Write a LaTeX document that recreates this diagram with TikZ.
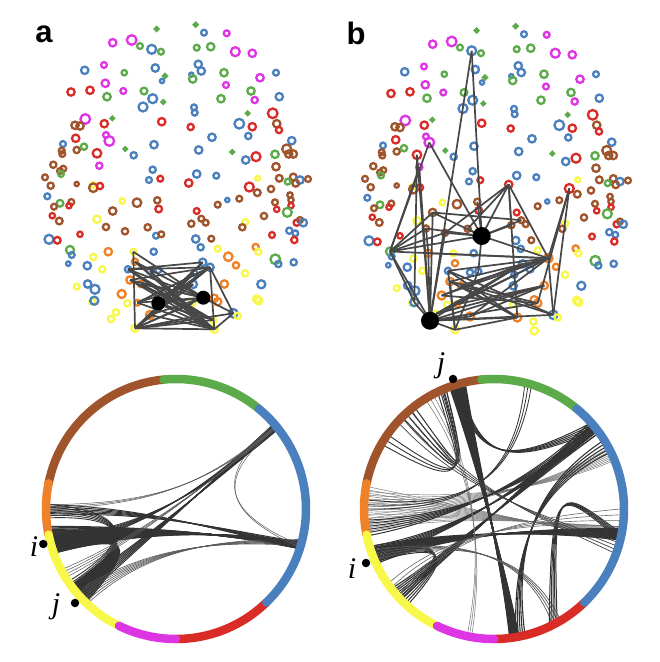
\documentclass[tikz,border=0pt]{standalone}
\usepackage{fontspec}
\setmainfont{Liberation Serif}
\newfontfamily\labfont{Liberation Sans}
\definecolor{kb}{HTML}{4A80BD}
\definecolor{kg}{HTML}{5CAB4A}
\definecolor{kr}{HTML}{D92C27}
\definecolor{km}{HTML}{DD35E3}
\definecolor{kn}{HTML}{A0542C}
\definecolor{ko}{HTML}{EF8128}
\definecolor{ky}{HTML}{F8F84A}
\tikzset{
  ringl/.style={line width=2.3},
  edgea/.style={draw=black!72,line width=1.7},
  hubn/.style={circle,fill=black,draw=none,inner sep=0pt},
  chd/.style={draw=black!80},
  seg/.style={line width=8.5,line cap=round},
  dotn/.style={circle,fill=black,inner sep=0pt,minimum size=8.5},
  letter/.style={font=\labfont\bfseries\fontsize{31}{31}\selectfont,anchor=base,inner sep=0pt},
  ijlab/.style={font=\fontsize{30}{30}\selectfont\itshape,anchor=base,inner sep=0pt},
}
\newcommand\bund[9]{%
  \pgfmathsetmacro\bAm{(#1+#2)/2}%
  \pgfmathsetmacro\bBm{(#3+#4)/2}%
  \foreach \k in {0,...,#5}{%
    \pgfmathsetmacro\bUa{#1+(#2-#1)*\k/#5}%
    \pgfmathsetmacro\bUb{#3+(#4-#3)*\k/#5}%
    \pgfmathsetmacro\qax{#6+\bs*126*(cos(\bUa)-cos(\bAm))}%
    \pgfmathsetmacro\qay{#7+\bs*126*(sin(\bUa)-sin(\bAm))}%
    \pgfmathsetmacro\qbx{#8+\bs*126*(cos(\bUb)-cos(\bBm))}%
    \pgfmathsetmacro\qby{#9+\bs*126*(sin(\bUb)-sin(\bBm))}%
    \draw[chd,draw=black!\gr,line width=\lw] (\bUa:126) .. controls (\qax,\qay) and (\qbx,\qby) .. (\bUb:126);
  }}
\newcommand\ringsegs{%
  \draw[seg,kn] (95.5:130) arc[start angle=95.5,end angle=168.6,radius=130];
  \draw[seg,kg] (50.5:130) arc[start angle=50.5,end angle=95.5,radius=130];
  \draw[seg,kr] (270:130) arc[start angle=270,end angle=314,radius=130];
  \draw[seg,ko] (168.6:130) arc[start angle=168.6,end angle=191.4,radius=130];
  \draw[seg,ky] (191.4:130) arc[start angle=191.4,end angle=244,radius=130];
  \draw[seg,km] (244:130) arc[start angle=244,end angle=270,radius=130];
  \draw[seg,kb] (-46:130) arc[start angle=-46,end angle=50.5,radius=130];
}
\def\layout{156.7/29/kg/1.7, 195.7/24.7/kg/1.7, 204/32.7/kb/2.6, 226.7/33.3/km/2.6,
112.7/42.7/km/3.3, 131.7/40/km/4.3, 140/46/kg/2.6, 151.7/49.3/kb/4.0, 161/51.7/kg/2.6,
196.7/47.7/kg/2.6, 210.7/46.7/kg/3.3, 235.3/51.7/km/4.0, 252.3/53.3/km/3.3, 84.7/70.3/kb/3.3,
104/65/km/2.6, 124.3/72.7/kg/2.4, 155.3/68/kb/3.3, 165/76/kg/1.7, 162/81/kb/1.9,
198.3/64.3/kb/3.3, 201.3/71/kb/3.3, 191.3/74.7/kb/1.9, 192.7/79/kg/3.3, 224/72.7/kg/3.3,
226/85/km/2.6, 260/77.7/km/3.3, 276/72.7/kb/2.6, 71/92/kr/3.3, 90/90.3/kr/3.3,
105.3/83.3/km/3.3, 123.3/91/km/2.6, 107/96.7/kg/3.3, 144/91/kg/3.0, 152.7/98.7/kb/4.0,
143/107/kb/4.0, 163.3/102/kg/1.5, 221/98.7/kg/3.3, 251/91/kg/3.3, 254.7/100/km/2.8,
279.3/96.7/kb/3.3, 194/107.3/kb/2.6, 194.7/112.7/kb/2.6, 247.7/113.3/kg/1.5, 272.7/113.3/kr/4.3,
85.3/119/km/4.3, 75/125.3/kn/3.3, 80/126/kn/3.3, 104.3/123.7/kr/3.3, 112.3/118.3/kg/1.5,
161.7/121.7/kr/3.3, 190.7/127/kr/2.8, 239.3/123.7/kb/4.3, 252.3/126.7/kr/3.3, 276.7/123.7/kn/3.3,
279/130/kr/2.8, 248.3/136/kb/2.8, 212/137.3/kb/3.3, 75.7/138.3/kr/3.3, 106/135/km/2.6,
109.3/141/km/4.3, 63/144/kb/2.6, 61.7/150.7/kn/2.6, 62.3/154/kn/2.6, 76.7/150/kn/2.8,
84/146.7/kg/2.8, 97/153.3/kr/3.8, 125.3/149/kg/1.5, 133.7/155.3/kb/2.8, 154/144.7/kb/3.3,
198.7/150/kb/3.3, 232.3/152/kg/1.5, 245.7/160/kb/3.3, 256/156.7/kr/4.0, 275/154.3/kg/3.3,
291.7/140.7/kb/3.3, 286.7/149/kn/4.0, 288.7/154/kn/3.3, 293.3/154/kn/3.3, 99.3/165.7/km/2.8,
53.3/164.7/kn/2.8, 63.3/168.7/kn/2.6, 60/171/kn/2.6, 61/174/kg/2.6, 152.7/169.7/kb/2.8,
149/180/kb/2.6, 160.3/178.7/kr/2.6, 196.7/174/kb/3.3, 216.3/175.7/kb/2.6, 188.7/183/kr/3.3,
276/166.7/kn/3.3, 279.3/178.3/kn/3.0, 257.7/178.3/ky/2.2, 249.3/187/kr/4.0, 257.3/192.7/kn/3.0,
293.3/177/kn/3.0, 300/180/kb/3.3, 308/179/kn/2.6, 287.7/181.7/kg/2.6, 295.7/183.3/kn/3.0,
271/189/kn/2.8, 45/177.3/kn/2.6, 50.7/185.7/kn/2.8, 76.7/184/kn/1.9, 93.3/185/ky/2.6,
93.3/187.7/kn/3.8, 100/186/kr/2.8, 47.3/196.3/kb/2.6, 122.3/201/ky/2.4, 137/202.7/kn/3.8,
157.3/200.3/kn/2.8, 158.7/209/kr/3.0, 60/203.3/kg/3.0, 71.3/202/kn/2.6, 69/205.7/kr/2.4,
54/206.7/kn/2.6, 52.3/215.7/kr/2.4, 59.3/221/kn/3.0, 112.7/211/kn/3.3, 97/219.3/ky/3.3,
106/227/kn/2.8, 125/231.3/kn/2.8, 147.7/227.3/kn/2.8, 156/235.7/kb/2.6, 161.3/234.3/kn/2.6,
80/234.3/kr/2.4, 49/239.3/kb/4.0, 57.3/240.3/kr/3.0, 196.7/211/kr/2.6, 201.3/218.7/kn/2.6,
205.7/222.7/kn/2.6, 191.3/223.7/kn/2.8, 227.3/200/kb/1.9, 217.7/204.7/kn/2.6, 239.3/198.7/kn/2.6,
245.3/222/ky/2.6, 242.3/227.3/kn/2.8, 264/216/kn/2.8, 275/202.3/kn/2.6, 276.7/209.3/kr/2.4,
290/195/kn/2.4, 291/200/kn/2.4, 291/205.7/kr/2.4, 287.3/212.3/kg/4.0, 296.7/222.7/kr/2.8,
300/220/kn/2.6, 303.3/222.7/kb/3.3, 289.3/230.7/kb/2.8, 295.3/233.3/kb/2.6, 294.3/240/kr/2.8,
272/235/kr/2.6, 195.7/239/kb/3.3, 200.7/247.3/kb/2.8, 211.3/238.7/kn/2.6, 70/250/kg/3.6,
71.7/255/kb/2.6, 68.3/263.7/kb/2.0, 93.3/257/ky/2.8, 87.3/265.7/kb/3.3, 102.3/269.3/ky/2.8,
108.3/251.7/ko/3.3, 153.7/251.7/kb/2.8, 217.7/248.7/ky/2.6, 228.3/256.7/ko/3.8, 236/265.3/ko/2.8,
245/273.3/ky/2.8, 255.7/247/ko/2.8, 258.3/251.7/ky/2.8, 275.3/259.3/kg/4.3, 278.3/264/kb/2.8,
293.7/262.3/kb/2.8, 87.7/284/kb/3.3, 95/289.3/kb/4.0, 92.3/301.5/ky/2.8, 94.3/300.7/kb/3.6,
76.7/286.7/ky/2.6, 127.3/303.3/ky/2.8, 121.7/294/ko/3.6, 116/312.3/ky/2.8, 111/319/ky/2.8,
224.3/284/ko/3.3, 261.3/284.3/kb/3.6, 256.7/299/ky/3.3, 258.7/300.7/ky/3.3, 133.3/251.7/ky/2.6,
135/261.7/ko/2.8, 128/269.3/kb/2.8, 150/271/kb/2.8, 158.3/270/kb/2.8, 202.7/262.3/kb/3.3,
210/267.3/kb/3.3, 194.3/273.3/kb/2.8, 130/280/ko/3.3, 140.7/284/ko/2.8, 193.3/284.3/kb/3.3,
137.3/302.7/ko/2.6, 214.3/298.3/ko/3.3, 217.7/301.7/ko/3.3, 192.7/303.3/ky/2.6, 150/315/ko/3.6,
197.3/316/ko/3.6, 233.3/313.3/kb/3.8, 237.7/316/ky/2.8, 135/328.3/ky/3.3, 214.3/329.3/ky/3.3,
213.3/320/ky/2.8}
\begin{document}
\begin{tikzpicture}[x=1pt,y=-1pt]
\useasboundingbox (0,0) rectangle (660,662);
\fill[white] (0,0) rectangle (660,662);
% ---------------- panel a
\begin{scope}
  \foreach \x/\y/\cc/\rr in \layout {\draw[\cc,ringl] (\x,\y) circle[radius=1.12*\rr];}
  \coordinate (a1) at (133.3,251.7); \coordinate (a2) at (135,261.7);
  \coordinate (a3) at (128,269.3);   \coordinate (a4) at (210,267.3);
  \coordinate (a5) at (202.7,262.3); \coordinate (a6) at (130,280);
  \coordinate (a7) at (140.7,284);   \coordinate (a8) at (158.3,303.3);
  \coordinate (a9) at (203.3,297.7); \coordinate (a10) at (150,315);
  \coordinate (a11) at (197.3,316);  \coordinate (a12) at (135,328.3);
  \coordinate (a13) at (214.3,329.3); \coordinate (a14) at (233.3,313.3);
  \coordinate (a15) at (213.3,320);  \coordinate (a16) at (192.7,303.3);
  \coordinate (a17) at (137.3,302.7); \coordinate (a18) at (150,271);
  \coordinate (a19) at (194.3,273.3); \coordinate (a20) at (193.3,284.3);
  \foreach \u/\v in {a3/a4,a3/a5,a1/a12,a4/a13,a12/a13,a3/a13,a3/a9,a3/a11,a3/a15,a1/a9,
    a2/a11,a2/a9,a2/a13,a4/a12,a4/a10,a4/a8,a4/a17,a5/a12,a5/a8,a5/a10,a6/a13,a6/a9,a6/a15,
    a7/a15,a7/a11,a7/a9,a8/a13,a8/a9,a8/a15,a10/a13,a10/a9,a11/a12,a14/a13,a14/a9,a14/a4,
    a14/a12,a17/a13,a17/a9,a16/a12,a18/a13,a18/a11,a19/a12,a19/a10,a20/a12,a20/a17,a12/a9,
    a12/a15,a8/a11,a6/a4,a17/a4}
    {\draw[edgea] (\u) -- (\v);}
  \node[hubn,minimum size=14] (ha1) at (a8) {};
  \node[hubn,minimum size=14] (ha2) at (a9) {};
\end{scope}
% ---------------- panel b
\begin{scope}[shift={(320,1.5)}]
  \foreach \x/\y/\cc/\rr in \layout {\draw[\cc,ringl] (\x,\y) circle[radius=1.12*\rr];}
  \coordinate (b1) at (151.7,49.3);  \coordinate (b2) at (161.7,234.5);
  \coordinate (b3) at (110,319.2);   \coordinate (b4) at (99.3,165.7);
  \coordinate (b5) at (97,153.3);    \coordinate (b6) at (109.3,141);
  \coordinate (b7) at (188.7,183);   \coordinate (b8) at (249.3,187);
  \coordinate (b9) at (70,250);      \coordinate (b10) at (228.3,256.7);
  \coordinate (b11) at (112.7,211);  \coordinate (b12) at (106,227);
  \coordinate (b13) at (125,231.3);  \coordinate (b14) at (147.7,227.3);
  \coordinate (b15) at (157.3,200.3); \coordinate (b16) at (108.3,251.7);
  \coordinate (b17) at (201.3,218.7); \coordinate (b18) at (191.3,223.7);
  \coordinate (b19) at (94.3,300.7); \coordinate (b20) at (116,312.3);
  \coordinate (b21) at (150,315);    \coordinate (b22) at (197.3,316);
  \coordinate (b23) at (233.3,313.3); \coordinate (b24) at (135,328.3);
  \coordinate (b25) at (130,280);    \coordinate (b26) at (140.7,284);
  \coordinate (b27) at (121.7,294);  \coordinate (b28) at (158.3,270);
  \coordinate (b29) at (128,269.3);  \coordinate (b30) at (224.3,284);
  \coordinate (b31) at (217.7,301.7); \coordinate (b32) at (137.3,302.7);
  \coordinate (b33) at (202.7,262.3);
  \foreach \u/\v in {b1/b2,b1/b3,b4/b9,b4/b3,b5/b3,b5/b19,b6/b9,b6/b2,b7/b2,b7/b13,b7/b14,
    b7/b10,b7/b22,b7/b18,b8/b10,b8/b23,b8/b31,b9/b11,b9/b12,b9/b13,b9/b2,b9/b10,b9/b3,b9/b19,
    b11/b17,b11/b2,b11/b3,b12/b2,b13/b2,b14/b2,b16/b10,b2/b18,b2/b17,b2/b10,b10/b23,b10/b21,
    b10/b20,b10/b25,b10/b29,b10/b26,b10/b27,b10/b32,b23/b3,b3/b22,b3/b21,b3/b24,b3/b31,b3/b30,
    b24/b22,b24/b25,b24/b29,b20/b33,b21/b30,b27/b31,b26/b22,b29/b23,b25/b22,b32/b30,b2/b28,
    b28/b24,b15/b2,b12/b16,b16/b3,b19/b3,b13/b3,b33/b3,b30/b20,b29/b22,b25/b31,b26/b23,b27/b33}
    {\draw[edgea] (\u) -- (\v);}
  \node[hubn,minimum size=18] (hb1) at (b2) {};
  \node[hubn,minimum size=18] (hb2) at (b3) {};
\end{scope}
\node[letter] (la) at (44,42.5) {a};
\node[letter] (lb) at (356,44) {b};
% ---------------- chord diagram left
\begin{scope}[shift={(176,509)},yscale=-1]
  \def\bs{0.2}\def\gr{80}
  \def\lw{1.3}\bund{188}{200}{-18}{-15}{18}{-40}{-20}{40}{-22}
  \def\lw{1.4}\bund{190}{200}{216}{226}{16}{-45}{-22}{-42}{-34}
  \def\lw{1.0}\bund{217}{224}{38}{41}{6}{-40}{-40}{40}{30}
  \def\gr{65}\def\lw{0.6}\bund{220}{227}{-17}{-14}{6}{-30}{-40}{40}{-30}
  \def\gr{80}\def\lw{0.8}\bund{192}{198}{38}{41}{6}{-50}{-25}{20}{10}
  \def\lw{1.0}\bund{178}{183}{-18}{-15}{5}{-30}{0}{40}{-20}
  \def\gr{65}\def\lw{0.5}\bund{178}{180}{39}{40}{2}{-20}{5}{30}{25}
  \def\gr{80}\def\lw{0.9}\bund{178}{184}{214}{220}{5}{-40}{-5}{-45}{-35}
  \def\gr{65}\def\lw{0.5}\bund{39}{41}{-17}{-16}{1}{45}{35}{40}{0}
  \def\lw{0.5}\bund{208}{212}{39}{40}{3}{-40}{-30}{40}{30}
  \ringsegs
\end{scope}
% ---------------- chord diagram right
\begin{scope}[shift={(494,509)},yscale=-1]
  \def\bs{0.2}
  \def\gr{55}\def\lw{0.45}\bund{170}{190}{-14}{-8}{14}{-40}{0}{50}{-15}
  \def\lw{0.45}\bund{172}{186}{22}{28}{8}{-40}{5}{50}{20}
  \def\gr{80}\def\lw{1.4}\bund{103}{110}{-83}{-79}{18}{-18}{50}{8}{-50}
  \def\lw{1.2}\bund{197}{205}{-14}{-9}{12}{-50}{-25}{40}{-20}
  \def\lw{1.0}\bund{197}{203}{37}{41}{6}{-50}{-25}{20}{10}
  \def\lw{1.0}\bund{198}{204}{222}{228}{5}{-40}{-30}{-48}{-50}
  \def\gr{65}\def\lw{0.7}\bund{199}{203}{-63}{-59}{3}{-40}{-30}{30}{-40}
  \def\gr{80}\def\lw{1.1}\bund{36}{42}{218}{224}{6}{40}{30}{-40}{-40}
  \def\lw{1.0}\bund{36}{42}{185}{192}{5}{30}{20}{-50}{-10}
  \def\lw{1.0}\bund{128}{135}{112}{116}{3}{-27}{26}{-27}{26}
  \def\lw{0.9}\bund{145}{150}{112}{114}{2}{-30}{20}{-25}{30}
  \def\lw{0.8}\bund{73}{76}{176}{180}{2}{20}{20}{-40}{0}
  \def\lw{1.0}\bund{105}{108}{38}{42}{4}{-15}{45}{18}{45}
  \def\lw{1.0}\bund{-13}{-10}{-64}{-60}{4}{65}{20}{58}{31}
  \def\lw{1.1}\bund{26}{32}{-80}{-76}{4}{40}{20}{20}{-40}
  \def\gr{55}\def\lw{0.5}\bund{-102}{-100}{118}{122}{2}{-10}{-40}{-20}{40}
  \def\gr{75}\def\lw{0.7}\bund{130}{138}{-20}{-15}{3}{-30}{20}{40}{-5}
  \def\gr{60}\def\lw{0.6}\bund{215}{222}{-8}{0}{3}{-40}{-20}{40}{-10}
  \ringsegs
\end{scope}
% ---------------- i / j markers
\node[dotn] (di1) at (43.3,544) {};
\node[dotn] (dj1) at (75,603) {};
\node[dotn] (dj2) at (453,379) {};
\node[dotn] (di2) at (366,563) {};
\node[ijlab] (ti1) at (34,556.5) {i};
\node[ijlab] (tj1) at (56,613) {j};
\node[ijlab] (tj2) at (441,372) {j};
\node[ijlab] (ti2) at (352,578) {i};
\end{tikzpicture}
\end{document}
